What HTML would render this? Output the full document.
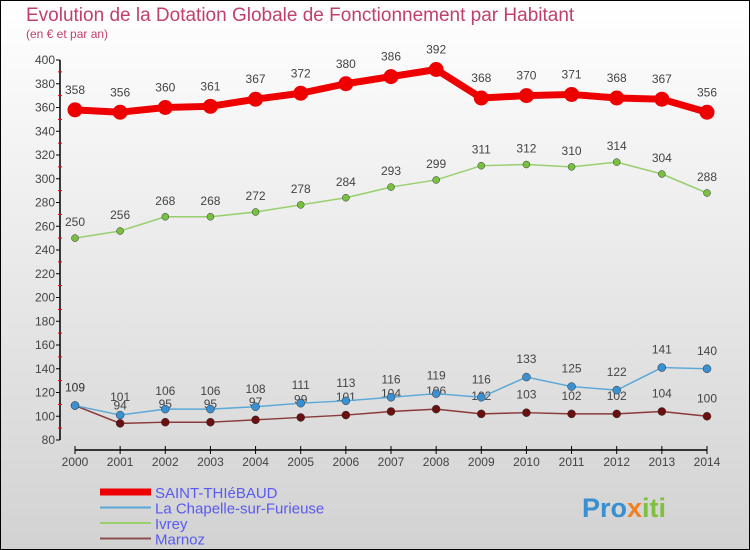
<!DOCTYPE html>
<html><head><meta charset="utf-8"><style>
body{margin:0;width:750px;height:550px;overflow:hidden;font-family:"Liberation Sans",sans-serif}
</style></head><body>
<svg id="c" width="750" height="550" style="display:block">
<defs><linearGradient id="bg" x1="0" y1="0" x2="0" y2="1"><stop offset="0" stop-color="#ffffff"/><stop offset="1" stop-color="#d2d2d2"/></linearGradient></defs>
<rect x="0.5" y="0.5" width="749" height="549" fill="url(#bg)" stroke="#000"/>
<text x="26" y="21" font-size="19" fill="#c0406a">Evolution de la Dotation Globale de Fonctionnement par Habitant</text>
<text x="26" y="38" font-size="12" fill="#c0406a">(en € et par an)</text>
<g id="axes"></g><g id="series"></g><g id="legend"></g>
<text x="582" y="517" font-size="27" font-weight="bold" fill="#3a8fd0">Pro<tspan fill="#f08020">x</tspan><tspan fill="#80c040">iti</tspan></text>
</svg>
<script>
const years=[2000,2001,2002,2003,2004,2005,2006,2007,2008,2009,2010,2011,2012,2013,2014];
const yTicks=[80,100,120,140,160,180,200,220,240,260,280,300,320,340,360,380,400];
const seriesNames=["SAINT-THIéBAUD","La Chapelle-sur-Furieuse","Ivrey","Marnoz"];
const saint=[358,356,360,361,367,372,380,386,392,368,370,371,368,367,356];
const chapelle=[109,101,106,106,108,111,113,116,119,116,133,125,122,141,140];
const ivrey=[250,256,268,268,272,278,284,293,299,311,312,310,314,304,288];
const marnoz=[109,94,95,95,97,99,101,104,106,102,103,102,102,104,100];
const NS="http://www.w3.org/2000/svg";
function el(t,a,p){const e=document.createElementNS(NS,t);for(const k in a)e.setAttribute(k,a[k]);p.appendChild(e);return e;}
const X=i=>75+i*(707-75)/(years.length-1);
const Y=v=>440-(v-80)*380/320;
const ax=document.getElementById('axes');
const yl=el('line',{x1:60,y1:60,x2:60,y2:440,stroke:'#000','stroke-width':1.5},ax);


yTicks.forEach((v,i)=>{
  el('line',{x1:56,y1:Y(v),x2:60,y2:Y(v),stroke:'#000'},ax);
  if(i<yTicks.length-1)el('line',{x1:58,y1:Y(v+10),x2:62,y2:Y(v+10),stroke:'#e00'},ax);
  const t=el('text',{x:55,y:Y(v)+4,'font-size':12,'text-anchor':'end',fill:'#444'},ax);t.textContent=v;
  
  
});
const xl=el('line',{x1:75,y1:450,x2:707,y2:450,stroke:'#000','stroke-width':1.5},ax);


years.forEach((y,i)=>{
  el('line',{x1:X(i),y1:446,x2:X(i),y2:454,stroke:'#000'},ax);
  const t=el('text',{x:X(i),y:466,'font-size':12,'text-anchor':'middle',fill:'#444'},ax);t.textContent=y;
  
  
});
const sg=document.getElementById('series');
const defs=[
 {d:marnoz,c:'#8b3a3a',f:'#6a1010',w:1.5,r:4,n:'marnoz',off:-14},
 {d:chapelle,c:'#5aa8d8',f:'#3a90d0',w:1.5,r:4,n:'la-chapelle',off:-14},
 {d:ivrey,c:'#98d070',f:'#78c040',w:1.5,r:3.5,n:'ivrey',off:-12},
 {d:saint,c:'#ee0000',f:'#ee0000',w:7,r:7.5,n:'saint-thiebaud',off:-16}];
defs.forEach(s=>{
  const g=el('g',{},sg);
  
  
  const p=el('polyline',{points:s.d.map((v,i)=>X(i)+','+Y(v)).join(' '),fill:'none',stroke:s.c,'stroke-width':s.w,'stroke-linejoin':'round'},g);
  
  
  s.d.forEach((v,i)=>{
    const c=el('circle',{cx:X(i),cy:Y(v),r:s.r,fill:s.f,stroke:'#333','stroke-width':s.w>2?0:0.5},g);
    
    
    const t=el('text',{x:X(i),y:Y(v)+s.off,'font-size':12,'text-anchor':'middle',fill:'#444'},g);t.textContent=v;
    
    
  });
});
const lg=document.getElementById('legend');
const lc=['#ee0000','#5aa8d8','#98d070','#8b5050'],lw=[7,2,2,2];
seriesNames.forEach((n,i)=>{
  const y=492+i*15.5;
  const g=el('g',{},lg);
  
  
  el('line',{x1:100,y1:y,x2:151,y2:y,stroke:lc[i],'stroke-width':lw[i]},g);
  const t=el('text',{x:155,y:y+6,'font-size':15,fill:'#5a5aee'},g);t.textContent=n;
});
</script>
</body></html>
